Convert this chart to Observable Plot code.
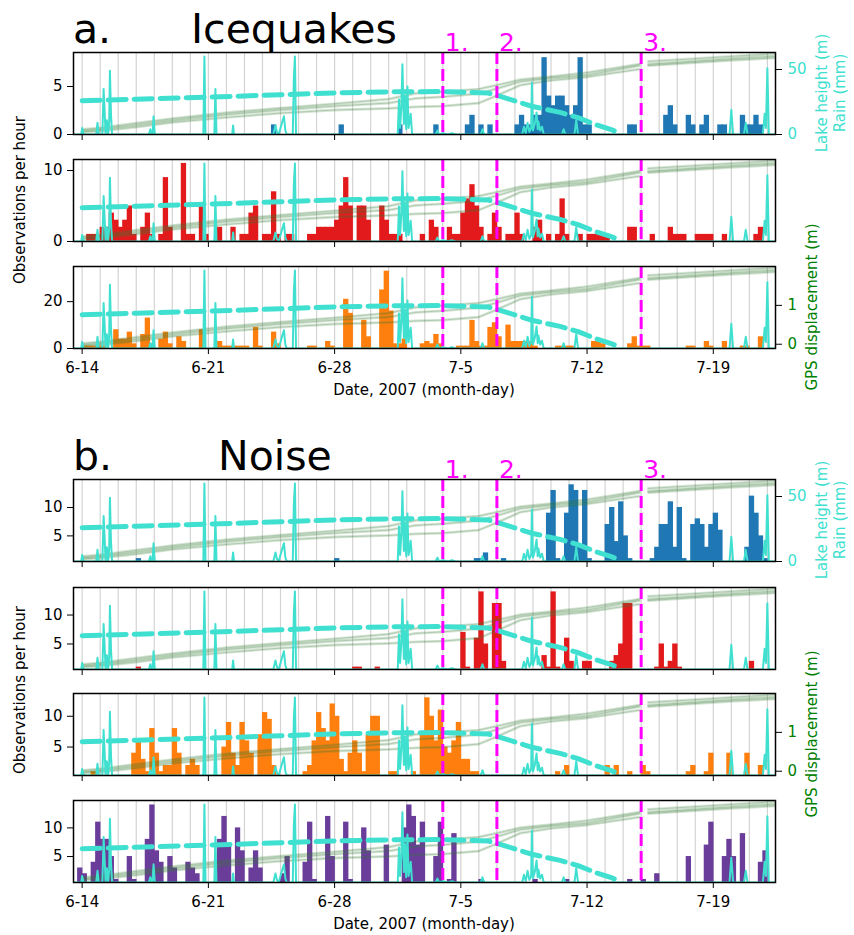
<!DOCTYPE html>
<html><head><meta charset="utf-8">
<script src="https://cdn.jsdelivr.net/npm/d3@7"></script>
<script src="https://cdn.jsdelivr.net/npm/@observablehq/plot@0.6"></script>
<style>
body{margin:0;background:#fff;}
#root{position:relative;width:854px;height:935px;overflow:hidden;background:#fff;}
#root svg{position:absolute;left:0;}
</style></head><body><div id="root"></div>
<script>
// ---------------- data (days after 2007-06-14 00:00) ----------------
const tickDays = [0, 7, 14, 21, 28, 35];
const tickLabels = ["6-14", "6-21", "6-28", "7-5", "7-12", "7-19"];
const eventDays = [20.0, 23.0, 31.0];
const eventLabels = ["1.", "2.", "3."];
const binDays = 0.25;
const binOffset = 0.02;

// histogram bins: [bin start day, observations per hour]
const iceBlue = [[10.5,1],[14.25,1],[17.5,1],[19.5,1],[21.25,1],[21.5,2],[22.0,1],[22.5,1],[24.0,1],[24.25,2],[24.5,1],[24.75,1],[25.0,2],[25.25,2],[25.5,8],[25.75,4],[26.0,3],[26.25,4],[26.5,4],[26.75,3],[27.0,2],[27.25,3],[27.5,8],[27.75,1],[28.0,1],[30.25,1],[30.5,1],[32.25,2],[32.5,3],[32.75,1],[33.5,2],[33.75,1],[34.25,1],[34.5,2],[35.25,1],[35.5,1],[36.5,2],[36.75,1],[37.0,1],[37.25,2],[37.5,1]];
const iceRed = [[0.25,1],[0.5,1],[1.0,2],[1.25,2],[1.5,4],[1.75,3],[2.0,2],[2.25,3],[2.5,5],[2.75,1],[3.25,2],[3.5,4],[3.75,1],[4.25,1],[4.5,9],[4.75,2],[5.5,11],[5.75,1],[6.0,1],[6.5,5],[6.75,1],[7.5,2],[8.25,2],[8.75,1],[9.0,1],[9.25,4],[9.5,5],[10.0,1],[10.25,1],[10.5,7],[10.75,1],[11.25,1],[11.5,1],[12.5,1],[12.75,1],[13.0,2],[13.25,2],[13.5,2],[13.75,2],[14.0,3],[14.25,5],[14.5,9],[14.75,5],[15.25,5],[15.5,5],[15.75,3],[16.5,5],[16.75,3],[17.0,1],[17.25,1],[17.5,1],[18.75,1],[19.25,3],[19.5,2],[20.25,2],[20.5,1],[20.75,1],[21.0,4],[21.25,6],[21.5,8],[21.75,5],[22.0,2],[22.5,1],[22.75,4],[23.0,2],[23.5,1],[23.75,1],[24.0,4],[24.25,1],[25.0,2],[25.25,3],[25.75,1],[26.25,1],[26.5,6],[26.75,1],[27.5,1],[28.0,1],[28.25,1],[28.5,1],[28.75,1],[29.0,1],[30.25,2],[30.5,2],[31.5,1],[32.5,2],[32.75,1],[33.0,1],[33.25,1],[34.0,1],[34.25,1],[34.5,1],[34.75,1],[35.5,1],[37.25,1],[37.5,2]];
const iceOrange = [[0.0,1],[0.25,1],[0.5,1],[0.75,1],[1.0,1],[1.75,8],[2.0,4],[2.25,4],[2.5,7],[2.75,2],[3.25,6],[3.5,13],[3.75,2],[4.25,4],[4.5,7],[4.75,2],[5.25,5],[5.5,3],[6.5,8],[7.5,3],[7.75,1],[8.0,1],[8.25,1],[8.5,1],[8.75,1],[9.0,1],[9.5,9],[9.75,1],[10.5,7],[10.75,2],[12.5,1],[12.75,1],[13.5,3],[13.75,1],[14.5,21],[14.75,15],[15.5,12],[15.75,5],[16.5,25],[16.75,33],[17.0,16],[17.25,2],[17.5,2],[17.75,4],[18.75,2],[19.0,3],[19.25,2],[19.5,6],[19.75,2],[20.75,1],[21.0,1],[21.25,1],[21.5,12],[21.75,3],[22.0,1],[22.25,1],[22.5,9],[22.75,11],[23.0,5],[23.5,10],[23.75,3],[24.0,3],[24.25,3],[24.5,3],[24.75,3],[25.0,1],[26.25,1],[26.5,1],[26.75,1],[27.0,1],[28.25,3],[28.5,3],[28.75,2],[30.25,2],[30.5,5],[30.75,1],[31.0,1],[31.25,1],[33.5,1],[33.75,1],[34.5,3],[34.75,1],[35.5,3],[36.5,1],[36.75,1],[37.5,5]];
const noiseBlue = [[3.0,1],[14.0,1],[21.75,1],[22.0,1],[22.25,2],[23.25,1],[25.75,9],[26.0,13],[26.25,1],[26.75,9],[27.0,14],[27.25,13],[27.5,3],[27.75,13],[28.0,1],[29.0,7],[29.25,10],[29.5,4],[29.75,11],[30.0,5],[30.25,1],[31.5,1],[31.75,3],[32.0,7],[32.25,7],[32.5,11],[32.75,3],[33.0,10],[33.25,1],[33.75,7],[34.0,8],[34.25,7],[34.5,3],[34.75,7],[35.0,9],[35.25,6],[36.75,3],[37.0,12],[37.25,9],[37.5,5],[37.75,1]];
const noiseRed = [[3.0,1],[15.0,1],[15.25,1],[16.25,1],[21.0,7],[21.25,1],[21.75,6],[22.0,14],[22.25,5],[22.75,12],[23.0,12],[23.25,2],[25.5,3],[25.75,1],[26.0,14],[26.25,1],[26.75,6],[27.0,2],[27.75,2],[28.0,2],[29.25,2],[29.5,3],[29.75,5],[30.0,12],[30.25,12],[31.75,1],[32.0,5],[32.25,1],[32.5,2],[32.75,5],[33.0,1],[37.0,2]];
const noiseOrange = [[0.5,1],[2.75,4],[3.0,6],[3.25,3],[3.5,1],[3.75,8],[4.0,4],[4.25,1],[4.5,2],[4.75,2],[5.0,8],[5.25,4],[5.75,2],[6.0,3],[6.25,2],[7.75,5],[8.0,9],[8.25,4],[8.5,2],[8.75,9],[9.0,6],[9.25,4],[9.75,7],[10.0,10.6],[10.25,9.5],[10.5,2],[12.25,1],[12.5,2],[12.75,6],[13.0,10.6],[13.25,8],[13.5,6],[13.75,12],[14.0,10],[14.25,3],[14.5,1],[14.75,4],[15.0,6],[15.25,4],[15.5,1],[15.75,7],[16.0,10],[16.25,10],[17.0,1],[17.25,1],[18.25,1],[18.75,7],[19.0,13],[19.25,10],[19.5,6],[19.75,11],[20.0,5],[20.25,4],[20.5,6],[20.75,9],[21.0,3],[21.25,3],[21.5,1],[21.75,1],[26.25,1],[26.75,2],[29.0,2],[29.5,2],[30.25,1],[31.0,2],[31.25,1],[33.5,1],[33.75,2],[34.5,1],[34.75,4],[35.75,4],[36.75,4],[37.5,2]];
const noisePurple = [[-0.25,3],[0.0,2],[0.5,4],[0.75,11],[1.0,8],[1.25,8],[1.5,5],[1.75,1],[2.5,5],[2.75,1],[3.5,8],[3.75,14],[4.0,6],[4.25,4],[4.75,5],[5.0,3],[5.75,4],[6.0,3],[6.25,2],[7.5,8],[7.75,12],[8.0,7],[8.5,10],[8.75,6],[9.25,3],[9.5,6],[9.75,3],[11.0,2],[11.25,5],[12.25,4],[12.5,11],[12.75,1],[13.5,12],[13.75,5],[14.5,11],[14.75,1],[15.5,10],[15.75,6],[16.75,7],[17.75,10],[18.0,14],[18.25,12],[18.5,7],[18.75,11],[19.5,5],[19.75,11],[20.25,1],[20.5,9],[22.0,1],[25.0,1],[26.75,1],[30.25,1],[31.0,1],[31.75,2],[33.5,5],[34.5,7],[34.75,11],[35.5,5],[35.75,8],[36.0,5],[36.5,9],[37.5,4],[37.75,6]];

// rain (mm): [day, mm]
const rain = [[-0.48,0],[-0.05,0],[0.0,5],[0.08,0],[0.78,0],[0.85,9],[0.92,0],[1.12,0],[1.19,35],[1.24,20],[1.3,0],[1.37,11],[1.44,0],[1.5,10],[1.54,49],[1.6,15],[1.66,0],[3.7,0],[3.78,4],[3.85,0],[3.9,0],[3.96,14],[4.03,0],[6.72,0],[6.78,60],[6.84,0],[7.33,0],[7.39,35],[7.45,0],[8.32,0],[8.37,7],[8.42,0],[10.6,0],[10.72,7],[10.8,2],[10.9,0],[11.0,5],[11.1,10],[11.19,14],[11.27,3],[11.35,0],[11.68,0],[11.74,44],[11.8,60],[11.86,0],[17.5,0],[17.57,27],[17.63,5],[17.7,20],[17.76,54],[17.84,8],[17.9,30],[17.97,4],[18.04,37],[18.1,5],[18.16,10],[18.22,16],[18.3,0],[19.6,0],[19.7,3],[19.8,0],[20.0,1],[20.3,0],[20.5,1],[20.7,0],[22.1,0],[22.2,4],[22.3,0],[24.4,0],[24.5,6],[24.6,1],[24.7,9],[24.8,2],[24.9,5],[24.94,40],[25.0,3],[25.1,8],[25.2,17],[25.26,4],[25.3,10],[25.4,3],[25.5,6],[25.6,0],[26.6,0],[26.7,4],[26.8,0],[27.3,0],[27.4,11],[27.5,0],[35.9,0],[36.0,19],[36.1,0],[36.7,0],[36.8,9],[36.9,0],[37.75,0],[37.85,16],[37.92,5],[38.0,51],[38.08,0],[38.45,0]];

// lake height (m): [day, m]
const lake = [[0,26],[3,27.2],[7,28.8],[11,30.5],[14,32],[17,32.8],[20,33],[22.5,32],[23.5,28],[25,21.5],[26.5,17],[27.5,13],[28.5,7.5],[29.3,4],[29.9,0.5]];

// GPS displacement (m) for three stations
const gpsDays = [0, 1, 3, 5, 8, 11, 14, 17, 18.5, 20, 22, 23, 24.3, 26, 28, 30.9, 31.15, 31.4, 34, 36, 38.45];
const gpsA = [0.02, 0.06, 0.18, 0.30, 0.45, 0.57, 0.68, 0.80, 0.95, 0.99, 1.06, 1.16, 1.30, 1.38, 1.48, 1.70, null, 1.77, 1.84, 1.90, 1.97];
const gpsB = [-0.02, 0.02, 0.13, 0.25, 0.40, 0.52, 0.62, 0.70, 0.82, 0.86, 0.94, 1.07, 1.25, 1.34, 1.42, 1.66, null, 1.70, 1.78, 1.84, 1.91];
const gpsC = [-0.05, -0.02, 0.08, 0.20, 0.33, 0.44, 0.52, 0.56, 0.60, 0.62, 0.70, 0.89, 1.16, 1.28, 1.37, 1.57, null, 1.66, 1.74, 1.80, 1.86];

// ---------------- layout / styles ----------------
const W = 854, ML = 73, MR = 79, MT = 34, MB = 45, PH = 82;
const xDomain = [-0.48, 38.45];
const lakeDomain = [0, PH / 1.3];
const gpsDomain = [-0.11, 2.0];
const TURQ = "#40e0d0", MAG = "#ff00ff", GREEN = "green";
const FONT = "DejaVu Sans";

const panels = [
  {top: 52, data: iceBlue, color: "#1f77b4", y: [0, 8.54], yt: [0, 5], lakeAxis: true, events: true},
  {top: 159, data: iceRed, color: "#e31a1c", y: [0, 11.55], yt: [0, 10]},
  {top: 266, data: iceOrange, color: "#ff7f0e", y: [0, 35.0], yt: [0, 20], gpsAxis: true, xLabels: true},
  {top: 479, data: noiseBlue, color: "#1f77b4", y: [0.49, 14.93], yt: [5, 10], lakeAxis: true, events: true},
  {top: 587, data: noiseRed, color: "#e31a1c", y: [0.59, 14.76], yt: [5, 10]},
  {top: 693, data: noiseOrange, color: "#ff7f0e", y: [0.375, 13.7], yt: [5, 10], gpsAxis: true},
  {top: 800, data: noisePurple, color: "#6a3d9a", y: [0.47, 14.78], yt: [5, 10], xLabels: true}
];

const gpsRows = [];
[gpsA, gpsB, gpsC].forEach((arr, k) => gpsDays.forEach((d, i) => gpsRows.push({day: d, m: arr[i], s: k})));

const root = document.getElementById("root");

function layer(top, yDomain, marks) {
  const svg = Plot.plot({
    width: W, height: PH + MT + MB,
    marginLeft: ML, marginRight: MR, marginTop: MT, marginBottom: MB,
    x: {domain: xDomain, axis: null},
    y: {domain: yDomain, axis: null},
    style: {fontFamily: FONT, fontSize: "15px", background: "transparent", color: "black", overflow: "visible"},
    marks
  });
  svg.style.position = "absolute";
  svg.style.top = (top - MT) + "px";
  svg.style.left = "0px";
  root.appendChild(svg);
}

const gridDays = d3.range(0, 39);

panels.forEach(p => {
  // layer 1: day grid, bars, left and bottom axes
  layer(p.top, p.y, [
    Plot.ruleX(gridDays, {stroke: "#d3d3d3", strokeWidth: 1.2}),
    Plot.rectY(p.data, {x1: d => d[0] + binOffset, x2: d => d[0] + binOffset + binDays, y: d => d[1], fill: p.color, insetLeft: -0.4, insetRight: -0.4, clip: true}),
    Plot.axisY({ticks: p.yt, anchor: "left", tickSize: 6, tickPadding: 5, label: null, tickFormat: d => String(d)}),
    Plot.axisX({ticks: tickDays, anchor: "bottom", tickSize: 6, tickPadding: 8, label: null,
      tickFormat: p.xLabels ? (d => tickLabels[tickDays.indexOf(d)]) : (() => "")})
  ]);
  // layer 2: GPS displacement
  layer(p.top, gpsDomain, [
    Plot.line(gpsRows, {x: "day", y: "m", z: "s", stroke: "#3f8a3f", strokeOpacity: 0.22, strokeWidth: 2.8, clip: true}),
    Plot.line(gpsRows, {x: "day", y: "m", z: "s", stroke: "#1f5f1f", strokeOpacity: 0.25, strokeWidth: 0.8, clip: true}),
    ...(p.gpsAxis ? [Plot.axisY({ticks: [0, 1], anchor: "right", tickSize: 6, tickPadding: 6, label: null, fill: GREEN, stroke: "black", tickFormat: d => String(d)})] : [])
  ]);
  // layer 3: rain, lake height, events, frame
  layer(p.top, lakeDomain, [
    Plot.line(rain, {x: d => d[0], y: d => d[1], stroke: TURQ, strokeWidth: 2, clip: true}),
    Plot.line(lake, {x: d => d[0], y: d => d[1], stroke: TURQ, strokeWidth: 5, strokeDasharray: "18,8", clip: true}),
    Plot.ruleX(eventDays, {stroke: MAG, strokeWidth: 3, strokeDasharray: "12,5"}),
    ...(p.events ? [Plot.text(eventDays, {x: d => d, text: (d, i) => eventLabels[i], frameAnchor: "top", lineAnchor: "bottom", textAnchor: "start", dx: 2, dy: -2, fill: MAG, fontSize: 25})] : []),
    ...(p.lakeAxis ? [Plot.axisY({ticks: [0, 50], anchor: "right", tickSize: 6, tickPadding: 6, label: null, fill: TURQ, stroke: "black", tickFormat: d => String(d)})] : []),
    Plot.frame({stroke: "black", strokeWidth: 1.5})
  ]);
});

// ---------------- titles and axis labels ----------------
const ann = d3.select(root).append("svg")
  .attr("width", W).attr("height", 935)
  .style("position", "absolute").style("left", "0px").style("top", "0px")
  .style("font-family", FONT);

function label(x, y, s, size, opts = {}) {
  const t = ann.append("text")
    .attr("x", opts.rotate ? 0 : x).attr("y", opts.rotate ? 0 : y)
    .attr("font-size", size)
    .attr("fill", opts.fill || "black")
    .attr("text-anchor", opts.anchor || "start")
    .text(s);
  if (opts.rotate) {
    t.attr("transform", `translate(${x},${y}) rotate(-90)`).attr("dominant-baseline", "central");
  }
  return t;
}

label(73, 43, "a.", 41);
label(191, 43, "Icequakes", 41);
label(73, 470, "b.", 41);
label(218, 470, "Noise", 41);
label(424, 395, "Date, 2007 (month-day)", 15, {anchor: "middle"});
label(424, 929, "Date, 2007 (month-day)", 15, {anchor: "middle"});
label(20, 200, "Observations per hour", 15, {anchor: "middle", rotate: true});
label(20, 690, "Observations per hour", 15, {anchor: "middle", rotate: true});
label(822, 93, "Lake height (m)", 15, {anchor: "middle", rotate: true, fill: TURQ});
label(840, 93, "Rain (mm)", 15, {anchor: "middle", rotate: true, fill: TURQ});
label(822, 520, "Lake height (m)", 15, {anchor: "middle", rotate: true, fill: TURQ});
label(840, 520, "Rain (mm)", 15, {anchor: "middle", rotate: true, fill: TURQ});
label(812, 307, "GPS displacement (m)", 15, {anchor: "middle", rotate: true, fill: GREEN});
label(812, 734, "GPS displacement (m)", 15, {anchor: "middle", rotate: true, fill: GREEN});
</script></body></html>
